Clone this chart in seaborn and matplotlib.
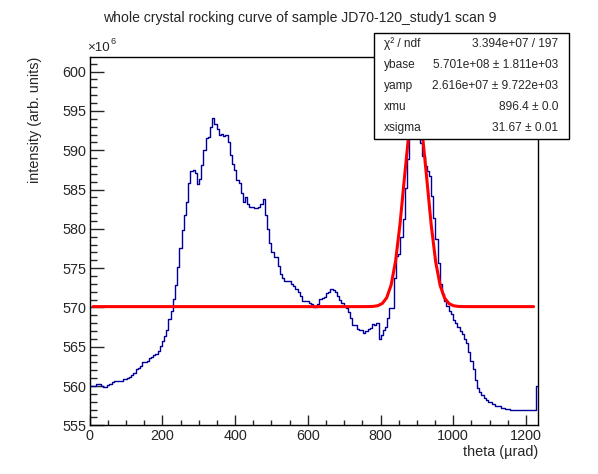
import numpy as np
import pandas as pd
import matplotlib
matplotlib.use("Agg")
import matplotlib.pyplot as plt
from matplotlib.patches import Rectangle
from matplotlib.ticker import MultipleLocator
import seaborn as sns

# histogram contents, in units of 1e6 (205 bins from 0 to 1234 urad)
theta_min = 0.0
theta_max = 1234.0
intensity = [
    560.0, 560.0, 560.0, 560.2, 560.2, 560.0, 559.9, 559.9, 560.1, 560.3,
    560.5, 560.6, 560.6, 560.6, 560.7, 560.9, 560.9, 561.0, 561.2, 561.4,
    561.7, 562.1, 562.3, 562.6, 563.0, 563.0, 563.2, 563.6, 563.7, 564.0,
    564.1, 564.5, 565.1, 565.7, 566.4, 567.1, 568.5, 569.6, 571.1, 572.8,
    575.1, 577.5, 579.8, 581.7, 583.4, 585.8, 587.3, 587.5, 587.1, 585.7,
    586.3, 588.1,
    590.0, 591.5, 591.7, 593.0, 594.1, 593.3, 592.7, 592.0, 592.1, 591.8,
    591.9, 591.0, 589.4, 588.2, 587.5, 586.2, 585.8, 584.5, 583.4, 584.0,
    583.2, 582.8, 582.8, 582.7, 582.7, 582.8, 583.1, 583.8, 581.7, 580.0,
    578.2, 577.0, 576.4, 576.4, 575.3, 574.3, 573.8, 573.4, 573.4, 573.4,
    573.0, 572.7, 572.3, 572.0, 571.5, 570.8, 570.8, 570.8, 570.6, 570.4,
    570.0,
    570.0, 570.4, 571.1, 571.2, 571.3, 571.8, 571.9, 572.4, 572.2, 571.95,
    571.4, 570.9, 570.5, 570.2, 569.95, 569.4, 568.6, 567.7, 567.7, 567.2,
    567.1, 567.1, 566.7, 567.0, 567.2, 567.4, 567.9, 567.8, 568.0,
    566.0, 566.5, 567.1, 567.5, 568.6, 569.9, 569.9, 573.8, 576.5, 576.8,
    578.9, 581.2, 585.2, 588.9,
    593.0, 595.5, 597.0, 597.5, 594.5,
    590.9, 589.3, 588.0, 587.4, 586.7, 584.2, 581.4, 578.7, 575.6, 573.0,
    571.7, 570.8, 570.2, 569.6, 569.1, 568.4, 568.0, 567.5, 567.0, 566.6,
    566.0, 565.5, 564.3, 563.2, 562.1, 560.8, 559.8, 559.2, 558.8, 558.5,
    558.2, 558.0, 558.0, 557.7, 557.5, 557.4, 557.4, 557.2, 557.2, 557.1,
    557.1, 556.9, 557.0, 557.0, 557.0, 557.0, 556.9, 556.9, 556.9, 556.9,
    556.9, 556.9, 556.9, 560.0,
]

# fit results shown in the stats box
ybase = 5.701e8
yamp = 2.616e7
xmu = 896.4
xsigma = 31.67
fit_range = (9.0, 1221.0)

stat_names = ["χ² / ndf", "ybase", "yamp", "xmu", "xsigma"]
stat_values = ["3.394e+07 / 197", "5.701e+08 ± 1.811e+03",
               "2.616e+07 ± 9.722e+03", "896.4 ± 0.0", "31.67 ± 0.01"]

title = "whole crystal rocking curve of sample JD70-120_study1 scan 9"

sns.set_style("ticks")
plt.rcParams["font.family"] = ["Liberation Sans", "DejaVu Sans"]

W, H = 598, 474
fig = plt.figure(figsize=(W / 100, H / 100), dpi=100)
ax = fig.add_axes([89.7 / W, 1 - 425.3 / H, (538.3 - 89.7) / W, (425.3 - 56.7) / H])

# histogram as steps
edges = np.linspace(theta_min, theta_max, len(intensity) + 1)
hist = pd.DataFrame({"theta": edges, "y": intensity + [intensity[-1]]})
sns.lineplot(data=hist, x="theta", y="y", ax=ax, color="#000099", lw=1.0,
             drawstyle="steps-post", estimator=None, sort=False)

# gaussian fit drawn like ROOT with 100 points
xf = np.linspace(fit_range[0], fit_range[1], 100)
yf = (ybase + yamp * np.exp(-0.5 * ((xf - xmu) / xsigma) ** 2)) / 1e6
fit = pd.DataFrame({"theta": xf, "y": yf})
sns.lineplot(data=fit, x="theta", y="y", ax=ax, color="#ff0000", lw=2.2,
             estimator=None, sort=False)

ax.set_xlim(theta_min, theta_max)
ax.set_ylim(555, 601.9)
ax.xaxis.set_major_locator(MultipleLocator(200))
ax.xaxis.set_minor_locator(MultipleLocator(50))
ax.yaxis.set_major_locator(MultipleLocator(5))
ax.yaxis.set_minor_locator(MultipleLocator(1))
ax.tick_params(axis="x", which="major", direction="in", length=7.5, width=1,
               labelsize=10.4, pad=3)
ax.tick_params(axis="x", which="minor", direction="in", length=3.8, width=1)
ax.tick_params(axis="y", which="major", direction="in", length=10, width=1,
               labelsize=10.4, pad=2.5)
ax.tick_params(axis="y", which="minor", direction="in", length=5, width=1)
for s in ax.spines.values():
    s.set_linewidth(1.0)
    s.set_color("black")
ax.set_xlabel("")
ax.set_ylabel("")

fig.text(538 / W, 1 - 452 / H, "theta (µrad)", ha="right", va="center", fontsize=10.4)
fig.text(34.5 / W, 1 - 57 / H, "intensity (arb. units)", ha="center", va="top",
         rotation=90, fontsize=10.4)
fig.text(300 / W, 1 - 18 / H, title, ha="center", va="center", fontsize=10.1)
fig.text(87.5 / W, 1 - 48 / H, "×10", ha="left", va="center", fontsize=9.6)
fig.text(110.5 / W, 1 - 41 / H, "6", ha="left", va="center", fontsize=6.6)

# stats box
bx0, bx1, by0, by1 = 374, 569, 33, 139
fig.patches.append(Rectangle((bx0 / W, 1 - by1 / H), (bx1 - bx0) / W, (by1 - by0) / H,
                             transform=fig.transFigure, facecolor="white",
                             edgecolor="black", lw=1.0, zorder=10))
row_h = (by1 - by0) / len(stat_names)
for i, (nm, val) in enumerate(zip(stat_names, stat_values)):
    yc = by0 + row_h * (i + 0.5)
    fig.text(384 / W, 1 - yc / H, nm, ha="left", va="center", fontsize=8.6, zorder=11)
    fig.text(558 / W, 1 - yc / H, val, ha="right", va="center", fontsize=8.6, zorder=11)

fig.savefig("out.png", dpi=100)
